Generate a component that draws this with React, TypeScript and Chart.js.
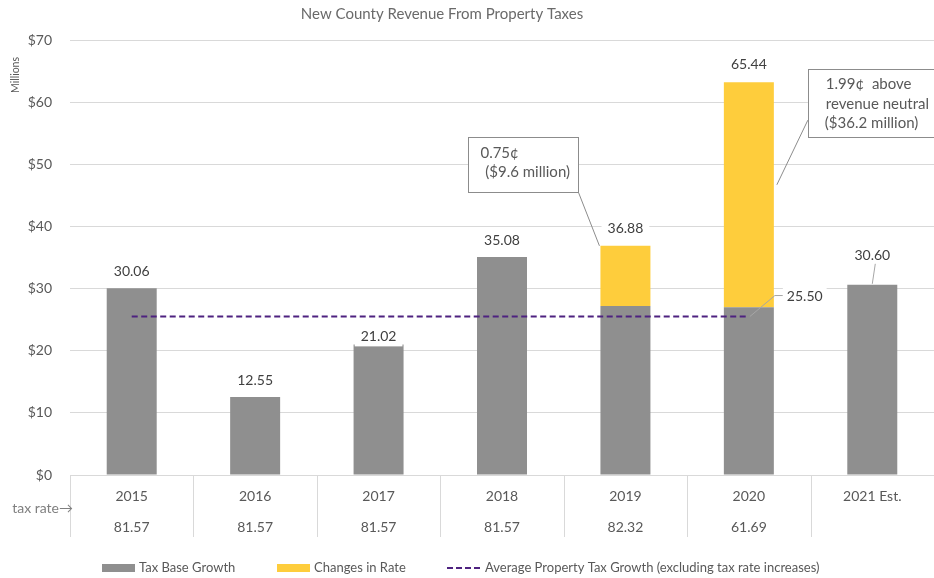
import React, { useEffect, useRef } from 'react';
import { Chart, registerables } from 'chart.js';

Chart.register(...registerables);

const categories = ['2015', '2016', '2017', '2018', '2019', '2020', '2021 Est.'];
const taxBaseGrowth = [30.06, 12.55, 21.02, 35.08, 27.2, 27.0, 30.6];
const changesInRate = [null, null, null, null, 9.68, 36.2, null];
const averageGrowth = [25.5, 25.5, 25.5, 25.5, 25.5, 25.5, null];
const totalLabels = ['30.06', '12.55', '21.02', '35.08', '36.88', '65.44', '30.60'];
const averageLabel = '25.50';
const taxRates = ['81.57', '81.57', '81.57', '81.57', '82.32', '61.69', ''];
const yMin = 0;
const yMax = 70;
const yStep = 10;
const title = 'New County Revenue From Property Taxes';
const callout2019 = ['0.75¢', ' ($9.6 million)'];
const callout2020 = ['1.99¢  above', 'revenue neutral', '($36.2 million)'];
const legendLabels = ['Tax Base Growth', 'Changes in Rate', 'Average Property Tax Growth (excluding tax rate increases)'];

const FONT = 'Lato, "Open Sans", sans-serif';
const GRAY = '#8f8f8f';
const GOLD = '#fecd3c';
const PURPLE = '#4e2280';
const TEXT = '#595959';
const DARK = '#404040';
const GRID = '#d9d9d9';
// per-label vertical offsets (pixels above stack top)
const labelOffsets = [18, 18, 9, 18, 18, 19, 30];

const overlay = {
  id: 'overlay',
  afterDatasetsDraw(chart: any) {
    const ctx = chart.ctx as CanvasRenderingContext2D;
    const xs = chart.scales.x;
    const ys = chart.scales.y;
    const area = chart.chartArea;
    const cx = (i: number) => xs.getPixelForValue(i);
    const py = (v: number) => ys.getPixelForValue(v);
    ctx.save();

    // title
    ctx.fillStyle = '#6a6a6a';
    ctx.font = `15px ${FONT}`;
    ctx.textAlign = 'center';
    ctx.textBaseline = 'middle';
    ctx.fillText(title, 442, 14);

    // Millions
    ctx.fillStyle = TEXT;
    ctx.save();
    ctx.translate(16, 75);
    ctx.rotate(-Math.PI / 2);
    ctx.font = `10.5px ${FONT}`;
    ctx.fillText('Millions', 0, 0);
    ctx.restore();

    // data labels
    ctx.font = `14px ${FONT}`;
    for (let i = 0; i < categories.length; i++) {
      const total = (taxBaseGrowth[i] || 0) + (changesInRate[i] || 0);
      const top = py(total);
      const x = cx(i);
      const y = top - labelOffsets[i];
      const w = ctx.measureText(totalLabels[i]).width;
      ctx.fillStyle = '#ffffff';
      ctx.fillRect(x - w / 2 - 6, y - 11, w + 12, 22);
      ctx.fillStyle = DARK;
      ctx.textAlign = 'center';
      ctx.fillText(totalLabels[i], x, y + 1);
      if (i === 6) {
        ctx.strokeStyle = '#a6a6a6';
        ctx.lineWidth = 1;
        ctx.beginPath();
        ctx.moveTo(x + 3, y + 9);
        ctx.lineTo(x, top - 1);
        ctx.stroke();
      }
    }

    // average label with leader
    {
      const x0 = cx(5) + 1;
      const y0 = py(25.5);
      ctx.strokeStyle = '#a6a6a6';
      ctx.lineWidth = 1;
      ctx.beginPath();
      ctx.moveTo(x0, y0);
      ctx.lineTo(x0 + 25, y0 - 21);
      ctx.lineTo(x0 + 33, y0 - 21);
      ctx.stroke();
      const w = ctx.measureText(averageLabel).width;
      ctx.fillStyle = '#ffffff';
      ctx.fillRect(x0 + 33, y0 - 32, w + 8, 22);
      ctx.fillStyle = DARK;
      ctx.textAlign = 'left';
      ctx.fillText(averageLabel, x0 + 37, y0 - 20);
    }

    // callout 2019
    ctx.font = `15px ${FONT}`;
    {
      const l = cx(4) - 157;
      const r = cx(4) - 47;
      const t = py(54.4);
      const b = py(45.5);
      ctx.fillStyle = '#ffffff';
      ctx.fillRect(l, t, r - l, b - t);
      ctx.strokeStyle = '#8c8c8c';
      ctx.lineWidth = 1;
      ctx.strokeRect(Math.round(l) + 0.5, Math.round(t) + 0.5, Math.round(r - l), Math.round(b - t));
      ctx.beginPath();
      ctx.moveTo(r, b);
      ctx.lineTo(cx(4) - 26, py((taxBaseGrowth[4] || 0) + (changesInRate[4] || 0)));
      ctx.stroke();
      ctx.fillStyle = TEXT;
      ctx.textAlign = 'left';
      ctx.fillText(callout2019[0], l + 12, t + 16);
      ctx.fillText(callout2019[1], l + 13, t + 35);
    }
    // callout 2020
    {
      const l = cx(5) + 59;
      const r = 960;
      const t = py(65.3);
      const b = py(54.4);
      ctx.fillStyle = '#ffffff';
      ctx.fillRect(l, t, r - l, b - t);
      ctx.strokeStyle = '#8c8c8c';
      ctx.strokeRect(Math.round(l) + 0.5, Math.round(t) + 0.5, Math.round(r - l), Math.round(b - t));
      ctx.beginPath();
      ctx.moveTo(l, py(57.1));
      ctx.lineTo(cx(5) + 28, py(46.7));
      ctx.stroke();
      ctx.fillStyle = TEXT;
      ctx.textAlign = 'left';
      ctx.fillText(callout2020[0], l + 18, t + 15);
      ctx.fillText(callout2020[1], l + 18, t + 35);
      ctx.fillText(callout2020[2], l + 17, t + 54);
    }

    // table under axis
    const colW = (area.right - area.left) / categories.length;
    ctx.strokeStyle = GRID;
    ctx.lineWidth = 1;
    for (let k = 0; k <= categories.length; k++) {
      const x = Math.round(area.left + k * colW) + 0.5;
      ctx.beginPath();
      ctx.moveTo(x, area.bottom + 1);
      ctx.lineTo(x, area.bottom + 62);
      ctx.stroke();
    }
    ctx.font = `14px ${FONT}`;
    ctx.fillStyle = TEXT;
    ctx.textAlign = 'center';
    for (let i = 0; i < categories.length; i++) {
      ctx.fillText(categories[i], cx(i), area.bottom + 21);
      if (taxRates[i]) ctx.fillText(taxRates[i], cx(i), area.bottom + 52);
    }
    ctx.fillStyle = '#7f7f7f';
    ctx.textAlign = 'right';
    ctx.font = `14px ${FONT}`;
    ctx.fillText('tax rate→', area.left + 3, area.bottom + 33);

    // legend
    const ly = 568;
    ctx.font = `13px ${FONT}`;
    ctx.textAlign = 'left';
    ctx.fillStyle = GRAY;
    ctx.fillRect(102, ly - 4, 33, 8);
    ctx.fillStyle = TEXT;
    ctx.fillText(legendLabels[0], 139, ly);
    ctx.fillStyle = GOLD;
    ctx.fillRect(277, ly - 4, 33, 8);
    ctx.fillStyle = TEXT;
    ctx.fillText(legendLabels[1], 314, ly);
    ctx.strokeStyle = PURPLE;
    ctx.lineWidth = 2;
    ctx.setLineDash([6, 3]);
    ctx.beginPath();
    ctx.moveTo(447, ly);
    ctx.lineTo(481, ly);
    ctx.stroke();
    ctx.setLineDash([]);
    ctx.fillText(legendLabels[2], 485, ly);

    ctx.restore();
  },
};

export default function App() {
  const ref = useRef<HTMLCanvasElement>(null);
  useEffect(() => {
    if (!ref.current) return;
    const chart = new Chart(ref.current, {
      type: 'bar',
      data: {
        labels: categories,
        datasets: [
          {
            type: 'line' as const,
            label: legendLabels[2],
            data: averageGrowth,
            borderColor: PURPLE,
            borderWidth: 2,
            borderDash: [6, 3.5],
            pointRadius: 0,
            fill: false,
            stack: 'avg',
            order: 0,
          } as any,
          {
            label: legendLabels[0],
            data: taxBaseGrowth,
            backgroundColor: GRAY,
            stack: 'rev',
            order: 1,
          },
          {
            label: legendLabels[1],
            data: changesInRate,
            backgroundColor: GOLD,
            stack: 'rev',
            order: 1,
          },
        ],
      },
      options: {
        responsive: true,
        maintainAspectRatio: false,
        animation: false,
        layout: { padding: { top: 40, bottom: 103, left: 0, right: 0 } },
        datasets: { bar: { categoryPercentage: 1, barPercentage: 0.405 } },
        plugins: {
          legend: { display: false },
          title: { display: false },
          tooltip: { enabled: false },
        },
        scales: {
          x: { stacked: true, display: false },
          y: {
            stacked: true,
            min: yMin,
            max: yMax,
            border: { display: false },
            grid: { color: GRID, drawTicks: false, lineWidth: 1 },
            ticks: {
              stepSize: yStep,
              padding: 18,
              color: TEXT,
              font: { family: FONT, size: 14 },
              callback: (v: any) => '$' + v,
            },
            afterFit: (s: any) => {
              s.width = 70;
            },
          },
        },
      },
      plugins: [overlay],
    });
    return () => chart.destroy();
  }, []);
  return (
    <div style={{ position: 'absolute', left: 0, top: 0, width: 934, height: 578, background: '#fff' }}>
      <canvas ref={ref} />
    </div>
  );
}
